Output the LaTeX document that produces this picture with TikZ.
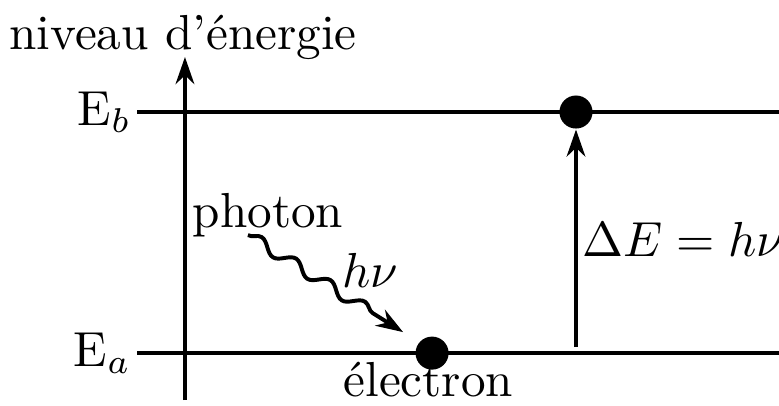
\documentclass[tikz,border=0pt]{standalone}
\usepackage{amsmath, amssymb}
\usepackage{tikz}
\usetikzlibrary{arrows.meta, decorations.pathmorphing}
\usepackage{tkz-euclide}

\begin{document}
\begin{tikzpicture}[>={Stealth[length=5.5pt,width=3.8pt]}]
                \useasboundingbox (0,0) rectangle (5.564,2.893);
                \tkzDefPoints{1.321/0.036/O, 1.321/2.486/N, 0.979/2.093/B, 5.564/2.093/C, 0.979/0.371/A, 5.564/0.371/D}
                \tkzDefPoints{4.114/0.414/S, 1.771/1.214/P, 2.879/0.521/Q}
                \draw[thick, ->] (O) -- (N);
                \draw[thick] (A) -- (D) (B) -- (C);
                \node[circle, fill, inner sep=0pt, minimum size=0.236cm] (ea) at (3.086,0.371) {};
                \node[circle, fill, inner sep=0pt, minimum size=0.236cm] (eb) at (4.114,2.093) {};
                \draw[thick, ->] (S) -- (eb);
                \draw[thick, ->, decorate, decoration={snake, segment length=0.29cm, amplitude=0.04cm, post length=0.12cm}] (P) -- (Q);
                \node[anchor=east, inner sep=1pt] at (A) {E$_a$};
                \node[anchor=east, inner sep=1pt] at (B) {E$_b$};
                \node at (1.307,2.629) {niveau d'énergie};
                \node at (1.914,1.357) {photon};
                \node at (2.643,0.964) {$h\nu$};
                \node[anchor=west, inner sep=0pt] at (4.155,1.18) {$\Delta E = h\nu$};
                \node[anchor=base, inner sep=0pt] at (3.06,0.06) {électron};
            \end{tikzpicture}
\end{document}
